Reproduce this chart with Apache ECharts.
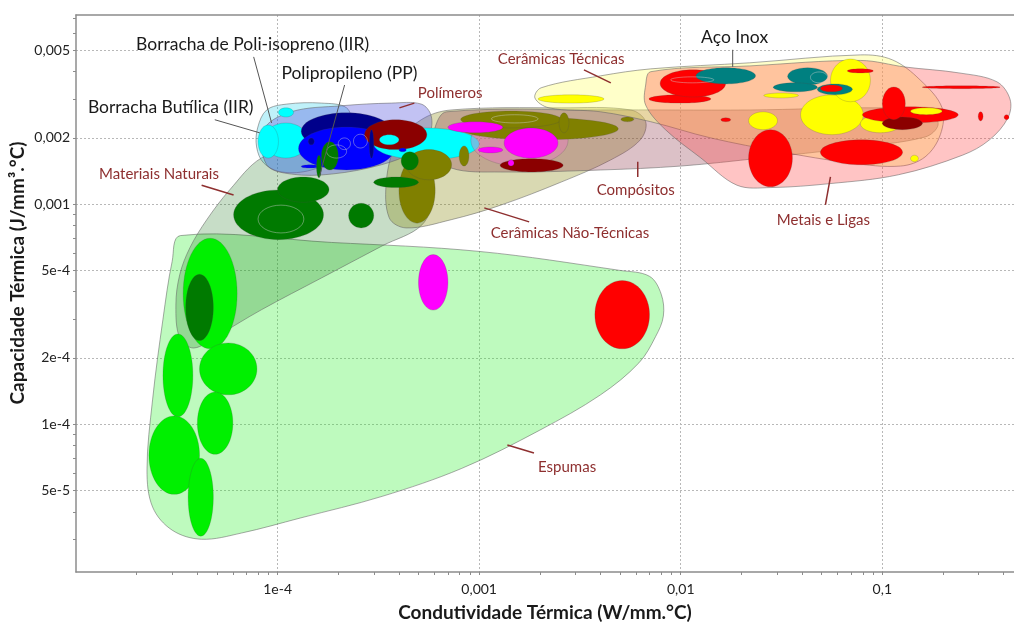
<!DOCTYPE html>
<html>
<head>
<meta charset="utf-8">
<script src="https://cdn.jsdelivr.net/npm/echarts@6/dist/echarts.min.js"></script>
<style>
  html, body { margin: 0; padding: 0; background: #ffffff; }
  #chart { width: 1014px; height: 622px; }
</style>
</head>
<body>
<div id="chart"></div>
<script>
// Mapa de propriedades: condutividade térmica (W/mm.°C) x capacidade térmica (J/mm³.°C)

// Limites dos eixos e marcas
const xRange = [1e-5, 0.45];
const yRange = [2.13e-5, 7.24e-3];
const xTickValues = [1e-4, 1e-3, 1e-2, 1e-1];
const xTickLabels = ['1e-4', '0,001', '0,01', '0,1'];
const yTickValues = [5e-5, 1e-4, 2e-4, 5e-4, 1e-3, 2e-3, 5e-3];
const yTickLabels = ['5e-5', '1e-4', '2e-4', '5e-4', '0,001', '0,002', '0,005'];

// Envoltórias das famílias de materiais: pontos [condutividade, capacidade]
const envEspumas = [[3.3e-5,7.2e-4],[1.85e-4,6.7e-4],[1.0e-3,6.1e-4],[5.0e-3,5.0e-4],[7.0e-3,4.7e-4],[8.0e-3,3.9e-4],[8.2e-3,3.1e-4],[7.5e-3,2.5e-4],[6.2e-3,1.9e-4],[4.0e-3,1.36e-4],[2.0e-3,9.4e-5],[8.2e-4,6.3e-5],[3.3e-4,4.7e-5],[1.3e-4,3.75e-5],[6.6e-5,3.2e-5],[4.2e-5,3.0e-5],[3.0e-5,3.3e-5],[2.4e-5,4.2e-5],[2.25e-5,6.2e-5],[2.4e-5,1.3e-4],[2.7e-5,3.0e-4],[3.0e-5,5.5e-4]];
const envNaturais = [[8.3e-5,1.62e-3],[1.31e-4,1.82e-3],[2.32e-4,1.9e-3],[4.1e-4,1.8e-3],[5.5e-4,1.54e-3],[5.9e-4,1.1e-3],[5.2e-4,8.05e-4],[3.3e-4,6.46e-4],[1.65e-4,4.62e-4],[8.3e-5,3.31e-4],[5.0e-5,2.52e-4],[3.84e-5,2.22e-4],[3.27e-5,2.47e-4],[3.13e-5,3.48e-4],[3.27e-5,4.78e-4],[3.67e-5,6.33e-4],[4.45e-5,8.49e-4],[5.78e-5,1.16e-3]];
const envCeramicasNT = [[7.26e-4,2.68e-3],[2.55e-3,2.74e-3],[5.65e-3,2.68e-3],[6.7e-3,2.37e-3],[6.3e-3,1.96e-3],[4.5e-3,1.59e-3],[2.55e-3,1.26e-3],[1.28e-3,9.9e-4],[7.26e-4,8.5e-4],[4.35e-4,7.8e-4],[3.58e-4,8.67e-4],[3.47e-4,1.29e-3],[3.88e-4,1.86e-3],[5.16e-4,2.42e-3]];
const envCompositos = [[6.9e-4,2.63e-3],[4.0e-3,2.68e-3],[0.022,2.68e-3],[0.096,2.74e-3],[0.173,2.63e-3],[0.189,2.29e-3],[0.163,2.02e-3],[0.0695,1.8e-3],[0.0249,1.62e-3],[0.01,1.49e-3],[4.0e-3,1.43e-3],[1.28e-3,1.4e-3],[7.26e-4,1.46e-3],[5.92e-4,1.77e-3],[6.1e-4,2.29e-3]];
const envCeramicasT = [[2.03e-3,3.38e-3],[4.0e-3,3.83e-3],[7.1e-3,4.12e-3],[0.022,4.39e-3],[0.078,4.77e-3],[0.112,4.53e-3],[0.154,3.67e-3],[0.198,2.74e-3],[0.194,2.07e-3],[0.163,1.64e-3],[0.123,1.49e-3],[0.0695,1.54e-3],[0.0313,1.73e-3],[0.0141,2.0e-3],[7.1e-3,2.37e-3],[4.0e-3,2.63e-3],[2.22e-3,2.74e-3],[1.89e-3,3.04e-3]];
const envMetais = [[7.1e-3,4.0e-3],[0.022,4.25e-3],[0.078,4.5e-3],[0.13,4.2e-3],[0.24,3.95e-3],[0.37,3.6e-3],[0.43,3.0e-3],[0.42,2.47e-3],[0.34,1.96e-3],[0.25,1.67e-3],[0.12,1.36e-3],[0.055,1.24e-3],[0.028,1.19e-3],[0.019,1.22e-3],[0.0126,1.62e-3],[8.4e-3,2.18e-3],[6.7e-3,2.82e-3],[6.7e-3,3.48e-3]];
const envElastomeros = [[7.96e-5,2.22e-3],[8.83e-5,2.68e-3],[1.11e-4,2.85e-3],[1.65e-4,2.88e-3],[2.2e-4,2.74e-3],[2.32e-4,2.29e-3],[2.07e-4,1.67e-3],[1.47e-4,1.43e-3],[1.05e-4,1.4e-3],[8.53e-5,1.54e-3],[7.87e-5,1.82e-3]];
const envPolimeros = [[8.53e-5,2.18e-3],[1.17e-4,2.63e-3],[2.07e-4,2.8e-3],[3.67e-4,2.88e-3],[5.16e-4,2.85e-3],[5.78e-4,2.52e-3],[5.65e-4,2.07e-3],[4.71e-4,1.73e-3],[3.27e-4,1.51e-3],[1.85e-4,1.37e-3],[1.17e-4,1.37e-3],[8.83e-5,1.51e-3]];

// Materiais: [k mín, k máx, C mín, C máx, classe]
const espumas = [
  [3.4e-5, 6.3e-5, 2.2e-4, 7.0e-4, 'espuma'],
  [2.7e-5, 3.8e-5, 1.08e-4, 2.57e-4, 'espuma'],
  [4.1e-5, 7.9e-5, 1.36e-4, 2.34e-4, 'espuma'],
  [4.0e-5, 6.0e-5, 7.3e-5, 1.4e-4, 'espuma'],
  [2.3e-5, 4.1e-5, 4.8e-5, 1.09e-4, 'espuma'],
  [3.6e-5, 4.8e-5, 3.1e-5, 7.0e-5, 'espuma'],
  [5.0e-4, 7.0e-4, 3.3e-4, 5.9e-4, 'magenta'],
  [3.75e-3, 7.0e-3, 2.2e-4, 4.5e-4, 'metal']
];
const polimeros = [
  [8.5e-5, 1.42e-4, 1.62e-3, 2.34e-3, 'ciano'],
  [8.0e-5, 1.01e-4, 1.62e-3, 2.29e-3, 'ciano'],
  [1.01e-4, 1.2e-4, 2.49e-3, 2.74e-3, 'ciano'],
  [1.31e-4, 3.67e-4, 1.77e-3, 2.6e-3, 'marinho'],
  [1.27e-4, 3.8e-4, 1.43e-3, 2.24e-3, 'azul'],
  [3.0e-4, 1.0e-3, 1.59e-3, 2.22e-3, 'ciano'],
  [2.7e-4, 5.5e-4, 1.77e-3, 2.42e-3, 'vinho'],
  [3.2e-4, 4.0e-4, 1.86e-3, 2.07e-3, 'ciano'],
  [2.85e-4, 3.0e-4, 1.62e-3, 2.18e-3, 'marinho'],
  [4.0e-4, 4.35e-4, 1.73e-3, 1.8e-3, 'azul'],
  [1.42e-4, 1.52e-4, 1.86e-3, 2.0e-3, 'marinho'],
  [1.31e-4, 1.61e-4, 1.46e-3, 1.51e-3, 'azul']
];
const compositosFundo = [
  [9.1e-4, 2.76e-3, 1.49e-3, 2.55e-3, 'compositoTrans']
];
const ceramicasNaoTecnicas = [
  [8.1e-4, 4.9e-3, 1.96e-3, 2.47e-3, 'ceramicaNT'],
  [8.1e-4, 2.55e-3, 2.22e-3, 2.65e-3, 'ceramicaNT'],
  [4.0e-4, 6.05e-4, 8.2e-4, 1.62e-3, 'ceramicaNT'],
  [4.35e-4, 7.3e-4, 1.29e-3, 1.77e-3, 'ceramicaNT'],
  [7.96e-4, 8.9e-4, 1.49e-3, 1.84e-3, 'ceramicaNT'],
  [2.49e-3, 2.79e-3, 2.11e-3, 2.6e-3, 'ceramicaNT'],
  [5.05e-3, 5.85e-3, 2.37e-3, 2.49e-3, 'ceramicaNT']
];
const compositos = [
  [7.0e-4, 1.31e-3, 2.11e-3, 2.37e-3, 'magenta'],
  [1.33e-3, 2.46e-3, 1.62e-3, 2.22e-3, 'magenta'],
  [9.9e-4, 1.31e-3, 1.71e-3, 1.82e-3, 'magenta'],
  [1.27e-3, 2.61e-3, 1.4e-3, 1.61e-3, 'vinho'],
  [1.39e-3, 1.49e-3, 1.49e-3, 1.59e-3, 'magenta']
];
const naturais = [
  [3.5e-5, 4.8e-5, 2.4e-4, 4.8e-4, 'natural'],
  [6.05e-5, 1.69e-4, 6.9e-4, 1.16e-3, 'natural'],
  [1.0e-4, 1.8e-4, 1.02e-3, 1.33e-3, 'natural'],
  [2.25e-4, 3.0e-4, 7.8e-4, 1.01e-3, 'natural'],
  [3.0e-4, 5.0e-4, 1.19e-3, 1.33e-3, 'natural'],
  [1.65e-4, 2.0e-4, 1.43e-3, 1.92e-3, 'natural'],
  [1.56e-4, 1.65e-4, 1.32e-3, 1.67e-3, 'natural'],
  [4.1e-4, 5.0e-4, 1.43e-3, 1.73e-3, 'natural']
];
const ceramicasTecnicas = [
  [1.96e-3, 4.16e-3, 2.88e-3, 3.14e-3, 'ceramicaT'],
  [0.0258, 0.0384, 3.04e-3, 3.2e-3, 'ceramicaT'],
  [0.0217, 0.0302, 2.18e-3, 2.63e-3, 'ceramicaT'],
  [0.0393, 0.0805, 2.07e-3, 3.14e-3, 'ceramicaT'],
  [0.0553, 0.0873, 2.92e-3, 4.57e-3, 'ceramicaT'],
  [0.0778, 0.123, 2.11e-3, 2.55e-3, 'ceramicaT'],
  [0.138, 0.151, 1.56e-3, 1.67e-3, 'ceramicaT']
];
const metais = [
  [6.95e-3, 0.0141, 2.88e-3, 3.14e-3, 'metal'],
  [7.9e-3, 0.0167, 3.07e-3, 4.08e-3, 'metal'],
  [0.0119, 0.0235, 3.52e-3, 4.17e-3, 'inox'],
  [0.0158, 0.0177, 2.37e-3, 2.47e-3, 'metal'],
  [0.0217, 0.0358, 1.2e-3, 2.18e-3, 'metal'],
  [0.0339, 0.0535, 3.48e-3, 4.17e-3, 'inox'],
  [0.0288, 0.0476, 3.24e-3, 3.56e-3, 'inox'],
  [0.0476, 0.071, 3.14e-3, 3.52e-3, 'inox'],
  [0.0493, 0.0634, 3.24e-3, 3.48e-3, 'metal'],
  [0.0671, 0.0902, 3.95e-3, 4.12e-3, 'metal'],
  [0.0493, 0.126, 1.51e-3, 1.96e-3, 'metal'],
  [0.0796, 0.238, 2.34e-3, 2.77e-3, 'metal'],
  [0.1, 0.158, 2.18e-3, 2.49e-3, 'vinho'],
  [0.1, 0.13, 2.42e-3, 3.41e-3, 'metal'],
  [0.138, 0.198, 2.55e-3, 2.74e-3, 'ceramicaT'],
  [0.158, 0.384, 3.35e-3, 3.45e-3, 'metal'],
  [0.299, 0.316, 2.39e-3, 2.63e-3, 'metal'],
  [0.402, 0.425, 2.42e-3, 2.55e-3, 'metal']
];
// Contornos finos (sem preenchimento) dentro de algumas bolhas
const contornos = [
  [8.0e-5, 1.35e-4, 7.4e-4, 9.9e-4],
  [2.0e-4, 2.3e-4, 1.77e-3, 2.0e-3],
  [2.38e-4, 2.79e-4, 1.8e-3, 2.08e-3],
  [1.75e-4, 2.2e-4, 1.62e-3, 1.86e-3],
  [1.15e-3, 1.96e-3, 2.34e-3, 2.55e-3],
  [8.9e-3, 0.0146, 3.56e-3, 3.79e-3],
  [0.044, 0.0535, 3.56e-3, 3.99e-3]
];

// Rótulos e linhas de chamada (coordenadas nos eixos)
const rotulos = [
  { texto: 'Borracha de Poli-isopreno (IIR)', tipo: 'material', pos: [7.52e-5, 5.35e-3], linha: [[7.61e-5, 4.67e-3], [9.34e-5, 2.34e-3]] },
  { texto: 'Polipropileno (PP)', tipo: 'material', pos: [2.27e-4, 3.95e-3], linha: [[2.15e-4, 3.48e-3], [1.61e-4, 1.33e-3]] },
  { texto: 'Borracha Butílica (IIR)', tipo: 'material', pos: [2.95e-5, 2.74e-3], linha: [[4.88e-5, 2.42e-3], [8.15e-5, 2.11e-3]] },
  { texto: 'Aço Inox', tipo: 'material', pos: [0.0185, 5.7e-3], linha: [[0.0181, 5.03e-3], [0.0181, 4.21e-3]] },
  { texto: 'Cerâmicas Técnicas', tipo: 'familia', pos: [2.55e-3, 4.57e-3], linha: [[3.31e-3, 4.08e-3], [4.5e-3, 3.56e-3]] },
  { texto: 'Polímeros', tipo: 'familia', pos: [7.18e-4, 3.2e-3], linha: [[4.77e-4, 2.88e-3], [4.02e-4, 2.74e-3]] },
  { texto: 'Materiais Naturais', tipo: 'familia', pos: [2.58e-5, 1.37e-3], linha: [[4.2e-5, 1.22e-3], [6.05e-5, 1.1e-3]] },
  { texto: 'Compósitos', tipo: 'familia', pos: [5.98e-3, 1.16e-3], linha: [[6.12e-3, 1.56e-3], [6.12e-3, 1.33e-3]] },
  { texto: 'Cerâmicas Não-Técnicas', tipo: 'familia', pos: [2.82e-3, 7.41e-4], linha: [[1.06e-3, 9.62e-4], [1.77e-3, 8.31e-4]] },
  { texto: 'Metais e Ligas', tipo: 'familia', pos: [0.051, 8.49e-4], linha: [[0.0553, 1.33e-3], [0.0522, 9.93e-4]] },
  { texto: 'Espumas', tipo: 'familia', pos: [2.73e-3, 6.4e-5], linha: [[1.38e-3, 8.05e-5], [1.87e-3, 7.4e-5]] }
];

// ---- estilos ----
const FONT = 'Lato, "Open Sans", "DejaVu Sans", sans-serif';
const cores = {
  espuma: '#00f000', natural: '#007a00', ceramicaNT: '#808000', ciano: '#00ffff',
  azul: '#0000ff', marinho: '#00008b', vinho: '#8b0000', magenta: '#ff00ff',
  compositoTrans: 'rgba(236,120,196,0.45)', ceramicaT: '#ffff00', metal: '#ff0000', inox: '#008080'
};
const envoltorias = [
  { pontos: envEspumas, cor: 'rgba(40,240,40,0.3)' },
  { pontos: envNaturais, cor: 'rgba(0,100,0,0.22)' },
  { pontos: envCeramicasNT, cor: 'rgba(128,128,0,0.3)' },
  { pontos: envCompositos, cor: 'rgba(140,50,70,0.3)' },
  { pontos: envCeramicasT, cor: 'rgba(255,255,100,0.35)' },
  { pontos: envMetais, cor: 'rgba(255,60,60,0.3)' },
  { pontos: envElastomeros, cor: 'rgba(0,200,230,0.25)' },
  { pontos: envPolimeros, cor: 'rgba(80,80,220,0.35)' }
];
const estiloRotulo = {
  material: { fill: '#1a1a1a', fontSize: 17.5, linha: '#555555', largura: 1 },
  familia: { fill: '#8e2f2f', fontSize: 15, linha: '#8e2f2f', largura: 1.5 }
};

const L = Math.log10;
const near = (a, b) => Math.abs(a - b) < 1e-6;
function labelFor(v, vals, labels) {
  for (let i = 0; i < vals.length; i++) if (near(L(vals[i]), v)) return labels[i];
  return '';
}
function minorTicks(lo, hi, skip) {
  const out = [];
  for (let e = Math.floor(L(lo)); e <= Math.ceil(L(hi)); e++) {
    for (let m = 1; m <= 9; m++) {
      const v = m * Math.pow(10, e);
      if (v >= lo && v <= hi && skip.indexOf(m) < 0) out.push(L(v));
    }
  }
  return out;
}

const paintOrder = [].concat(espumas, polimeros, compositosFundo, ceramicasNaoTecnicas,
  compositos, naturais, ceramicasTecnicas, metais);
const ellipseData = paintOrder.map(e => ({
  value: [L(e[0]), L(e[1]), L(e[2]), L(e[3])],
  itemStyle: { color: cores[e[4]] }
}));

function ellipseShape(api) {
  const p0 = api.coord([api.value(0), api.value(2)]);
  const p1 = api.coord([api.value(1), api.value(3)]);
  return { cx: (p0[0] + p1[0]) / 2, cy: (p0[1] + p1[1]) / 2,
           rx: Math.abs(p1[0] - p0[0]) / 2, ry: Math.abs(p1[1] - p0[1]) / 2 };
}
function renderEllipse(params, api) {
  return {
    type: 'ellipse', shape: ellipseShape(api),
    style: { fill: api.visual('color'), stroke: 'rgba(70,70,70,0.3)', lineWidth: 0.7 }
  };
}
function renderContour(params, api) {
  return {
    type: 'ellipse', shape: ellipseShape(api),
    style: { fill: null, stroke: 'rgba(210,210,210,0.55)', lineWidth: 0.8 }
  };
}
function renderEnvelope(params, api) {
  const env = envoltorias[params.dataIndex];
  const pts = env.pontos.map(p => api.coord([L(p[0]), L(p[1])]));
  return {
    type: 'polygon',
    shape: { points: pts, smooth: 0.35 },
    style: { fill: env.cor, stroke: 'rgba(100,100,100,0.55)', lineWidth: 1 }
  };
}
function renderLabel(params, api) {
  const r = rotulos[params.dataIndex];
  const s = estiloRotulo[r.tipo];
  const a = api.coord([L(r.linha[0][0]), L(r.linha[0][1])]);
  const b = api.coord([L(r.linha[1][0]), L(r.linha[1][1])]);
  const t = api.coord([L(r.pos[0]), L(r.pos[1])]);
  return {
    type: 'group',
    children: [
      { type: 'line', shape: { x1: a[0], y1: a[1], x2: b[0], y2: b[1] },
        style: { stroke: s.linha, lineWidth: s.largura } },
      { type: 'text', x: t[0], y: t[1],
        style: { text: r.texto, fill: s.fill, fontSize: s.fontSize, fontFamily: FONT,
                 align: 'center', verticalAlign: 'middle' } }
    ]
  };
}

const axisGray = '#8c8c8c';
const xMin = L(xRange[0]), xMax = L(xRange[1]);
const yMin = L(yRange[0]), yMax = L(yRange[1]);

const chart = echarts.init(document.getElementById('chart'), null, { renderer: 'canvas' });
chart.setOption({
  animation: false,
  backgroundColor: '#ffffff',
  grid: { left: 76, right: 0, top: 15, bottom: 50, containLabel: false, outerBoundsMode: 'none' },
  xAxis: [
    {
      type: 'value', min: xMin, max: xMax, position: 'bottom',
      axisLine: { show: true, onZero: false, lineStyle: { color: axisGray, width: 1.5 } },
      axisTick: { show: true, length: 3, customValues: xTickValues.map(L), lineStyle: { color: axisGray } },
      axisLabel: { customValues: xTickValues.map(L), formatter: v => labelFor(v, xTickValues, xTickLabels),
                   color: '#222222', fontSize: 14, margin: 10, fontFamily: FONT },
      splitLine: { show: true, lineStyle: { color: '#b8b8b8', type: [2, 2], width: 1 } },
      name: 'Condutividade Térmica (W/mm.°C)', nameLocation: 'middle', nameGap: 31,
      nameTextStyle: { color: '#1a1a1a', fontSize: 19, fontWeight: 'bold', fontFamily: FONT }
    },
    {
      type: 'value', min: xMin, max: xMax, position: 'bottom',
      axisLine: { show: false, onZero: false },
      axisTick: { show: true, length: 3, customValues: minorTicks(xRange[0], xRange[1], [1]), lineStyle: { color: axisGray } },
      axisLabel: { show: false }, splitLine: { show: false }
    },
    {
      type: 'value', min: xMin, max: xMax, position: 'top',
      axisLine: { show: true, onZero: false, lineStyle: { color: axisGray, width: 1.5 } },
      axisTick: { show: false }, axisLabel: { show: false }, splitLine: { show: false }
    }
  ],
  yAxis: [
    {
      type: 'value', min: yMin, max: yMax, position: 'left',
      axisLine: { show: true, onZero: false, lineStyle: { color: axisGray, width: 1.5 } },
      axisTick: { show: true, length: 3, customValues: yTickValues.map(L), lineStyle: { color: axisGray } },
      axisLabel: { customValues: yTickValues.map(L), formatter: v => labelFor(v, yTickValues, yTickLabels),
                   color: '#222222', fontSize: 14, margin: 6, fontFamily: FONT },
      splitLine: { show: true, lineStyle: { color: '#b8b8b8', type: [2, 2], width: 1 } }
    },
    {
      type: 'value', min: yMin, max: yMax, position: 'left',
      axisLine: { show: false, onZero: false },
      axisTick: { show: true, length: 3, customValues: minorTicks(yRange[0], yRange[1], [1, 2, 5]), lineStyle: { color: axisGray } },
      axisLabel: { show: false }, splitLine: { show: false }
    }
  ],
  graphic: [
    { type: 'text', x: 18, y: 273, rotation: Math.PI / 2,
      style: { text: 'Capacidade Térmica (J/mm³.°C)', fill: '#1a1a1a', fontSize: 19, fontWeight: 'bold',
               fontFamily: FONT, align: 'center', verticalAlign: 'middle' } }
  ],
  series: [
    { type: 'custom', name: 'envoltorias', xAxisIndex: 0, yAxisIndex: 0, clip: true, silent: true,
      renderItem: renderEnvelope,
      data: envoltorias.map(e => [L(e.pontos[0][0]), L(e.pontos[0][1])]) },
    { type: 'custom', name: 'materiais', xAxisIndex: 0, yAxisIndex: 0, clip: true, silent: true,
      renderItem: renderEllipse, encode: { x: [0, 1], y: [2, 3] }, data: ellipseData },
    { type: 'custom', name: 'contornos', xAxisIndex: 0, yAxisIndex: 0, clip: true, silent: true,
      renderItem: renderContour, encode: { x: [0, 1], y: [2, 3] },
      data: contornos.map(e => [L(e[0]), L(e[1]), L(e[2]), L(e[3])]) },
    { type: 'custom', name: 'rotulos', xAxisIndex: 0, yAxisIndex: 0, clip: false, silent: true, z: 5,
      renderItem: renderLabel,
      data: rotulos.map(r => [L(r.pos[0]), L(r.pos[1])]) }
  ]
});
</script>
</body>
</html>
